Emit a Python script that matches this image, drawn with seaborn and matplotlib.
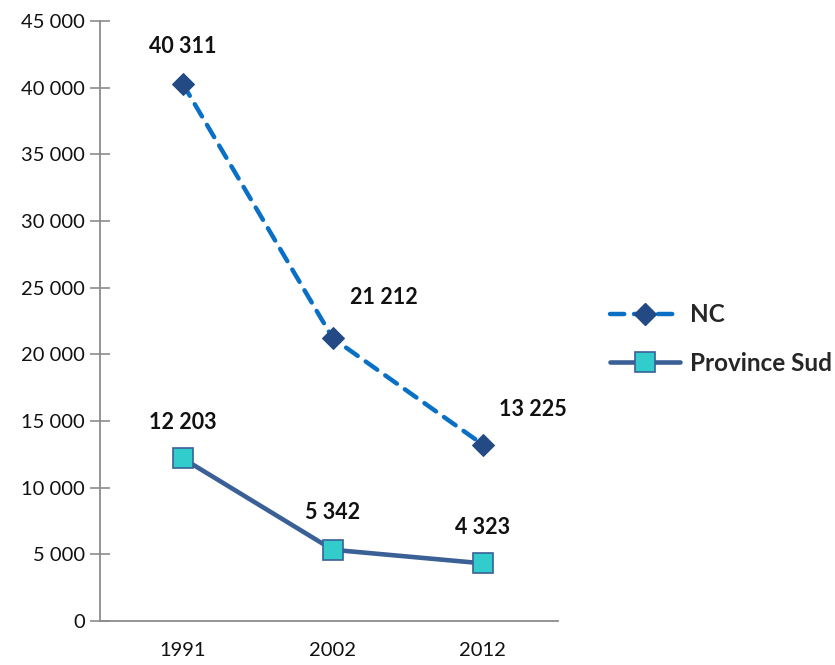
import matplotlib
matplotlib.use("Agg")
import matplotlib.pyplot as plt
import seaborn as sns
import pandas as pd
from matplotlib.ticker import FuncFormatter, MultipleLocator
from matplotlib.lines import Line2D

years = ["1991", "2002", "2012"]
nc_values = [40311, 21212, 13225]
sud_values = [12203, 5342, 4323]
series_names = ["NC", "Province Sud"]

df = pd.DataFrame({
    "year": years * 2,
    "value": nc_values + sud_values,
    "series": [series_names[0]] * 3 + [series_names[1]] * 3,
})

sns.set_theme(style="white")
plt.rcParams["font.family"] = ["Lato", "DejaVu Sans"]

fig = plt.figure(figsize=(8.35, 6.65), dpi=100)
ax = fig.add_axes([100/835, 1-621/665, (558-100)/835, 600/665])

NC_LINE = "#0A70C6"
NC_MARK = "#234A85"
SUD_LINE = "#3A6096"
SUD_MARK = "#33CCCC"

palette = {"NC": NC_LINE, "Province Sud": SUD_LINE}
sns.lineplot(data=df, x="year", y="value", hue="series", palette=palette,
             ax=ax, legend=False, sort=False)

lines = ax.get_lines()
nc_line, sud_line = lines[0], lines[1]
nc_line.set_linewidth(3.2)
nc_line.set_dashes([3.2, 2.2])
nc_line.set_dash_capstyle("round")
nc_line.set_marker("D")
nc_line.set_markersize(11)
nc_line.set_markerfacecolor(NC_MARK)
nc_line.set_markeredgecolor(NC_MARK)
nc_line.set_zorder(3)

sud_line.set_linewidth(3.3)
sud_line.set_solid_capstyle("round")
sud_line.set_marker("s")
sud_line.set_markersize(14)
sud_line.set_markerfacecolor(SUD_MARK)
sud_line.set_markeredgecolor(SUD_LINE)
sud_line.set_markeredgewidth(1.2)
sud_line.set_zorder(3)

ax.set_xlim(-0.55, 2.5)
ax.set_ylim(0, 45000)
ax.yaxis.set_major_locator(MultipleLocator(5000))
ax.yaxis.set_major_formatter(FuncFormatter(lambda v, p: f"{int(v):,}".replace(",", " ")))
ax.set_xlabel("")
ax.set_ylabel("")

for s in ["top", "right"]:
    ax.spines[s].set_visible(False)
for s in ["left", "bottom"]:
    ax.spines[s].set_color("#8C8C8C")
    ax.spines[s].set_linewidth(1.3)

ax.tick_params(axis="y", which="major", direction="inout", length=14, width=1.2,
               color="#8C8C8C", labelsize=14.5, labelcolor="#111111", pad=4, left=True)
ax.tick_params(axis="x", length=0, labelsize=14.5, labelcolor="#111111", pad=15)

label_offsets_nc = [(0, 26.5), (37, 29), (36, 25.5)]
label_offsets_sud = [(0, 25.5), (0, 26.5), (0, 26)]
fmt = lambda v: f"{v:,}".replace(",", " ")
for i, v in enumerate(nc_values):
    ax.annotate(fmt(v), (i, v), xytext=label_offsets_nc[i], textcoords="offset points",
                ha="center", va="center", fontsize=15.5, fontweight="bold", color="#111111")
for i, v in enumerate(sud_values):
    ax.annotate(fmt(v), (i, v), xytext=label_offsets_sud[i], textcoords="offset points",
                ha="center", va="center", fontsize=15.5, fontweight="bold", color="#111111")

h_nc = Line2D([], [], color=NC_LINE, lw=3.2, dashes=[3.2, 2.2], dash_capstyle="round",
              marker="D", markersize=11, markerfacecolor=NC_MARK, markeredgecolor=NC_MARK)
h_sud = Line2D([], [], color=SUD_LINE, lw=3.3, solid_capstyle="round",
               marker="s", markersize=14, markerfacecolor=SUD_MARK,
               markeredgecolor=SUD_LINE, markeredgewidth=1.2)
leg = fig.legend([h_nc, h_sud], series_names, loc="center left",
                 bbox_to_anchor=(588/835, 1-339/665), frameon=False,
                 handlelength=2.9, handletextpad=0.4, labelspacing=1.05,
                 prop={"size": 17.5, "weight": "bold"})

fig.savefig("out.png", dpi=100, facecolor="white")
